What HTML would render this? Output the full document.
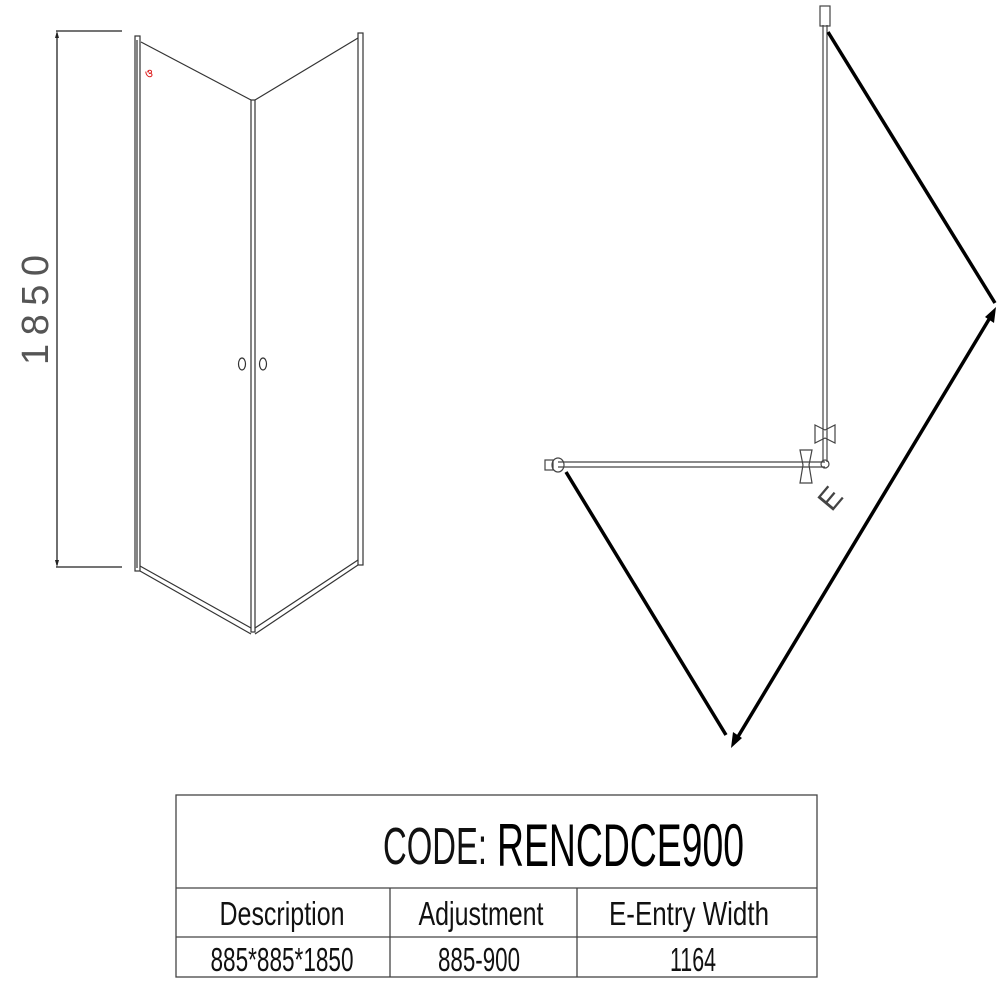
<!DOCTYPE html>
<html><head><style>body{margin:0;background:#fff}svg{display:block}</style></head><body>
<svg width="1000" height="1000" viewBox="0 0 1000 1000" xmlns="http://www.w3.org/2000/svg" font-family="Liberation Sans, sans-serif">
<g stroke="#222" stroke-width="1.3" fill="none">
<line x1="56" y1="31" x2="122" y2="31"/><line x1="56" y1="567" x2="122" y2="567"/>
<line x1="57" y1="33" x2="57" y2="565"/>
</g>
<path d="M57,31 l-2,7 h4z M57,567 l-2,-7 h4z" fill="#222"/>
<text transform="translate(48,310) rotate(-90)" font-size="38" fill="#555" text-anchor="middle" textLength="110" lengthAdjust="spacing">1850</text>
<g stroke="#333" stroke-width="1.2" fill="none">
<rect x="135" y="36" width="5" height="535"/>
<line x1="137" y1="40" x2="137" y2="568"/>
<line x1="141" y1="42" x2="251" y2="100"/>
<rect x="251" y="100" width="4" height="532"/>
<rect x="358" y="33" width="5" height="532"/>
<line x1="358" y1="38" x2="255" y2="100"/>
<line x1="140" y1="566" x2="251" y2="628"/>
<line x1="140" y1="571" x2="251" y2="634"/>
<line x1="358" y1="560" x2="255" y2="628"/>
<line x1="358" y1="565" x2="255" y2="634"/>
<ellipse cx="242" cy="364" rx="3.5" ry="6"/><ellipse cx="263" cy="364" rx="3.5" ry="6"/>
</g>
<text x="145" y="77" font-size="11" fill="#d22" font-weight="bold">ও</text>
<g stroke="#444" stroke-width="1.2" fill="none">
<line x1="823" y1="25" x2="823" y2="462"/><line x1="827" y1="25" x2="827" y2="462"/>
<rect x="820" y="6" width="10" height="20"/>
<line x1="558" y1="462" x2="825" y2="462"/><line x1="558" y1="467" x2="825" y2="467"/>
<ellipse cx="558" cy="465" rx="6" ry="7"/>
<rect x="545" y="460" width="8" height="10"/>
<circle cx="825" cy="464" r="4"/>
<path d="M815,425 l10,5 l10,-5 v18 l-10,-5 l-10,5z"/>
<path d="M800,450 h12 l-3,15 l3,18 h-12 l3,-18z"/>
</g>
<text transform="translate(838,505) rotate(-50)" font-size="30" fill="#444" text-anchor="middle" font-weight="300">E</text>
<g stroke="#000" stroke-width="3.5" fill="none">
<line x1="828" y1="32" x2="995" y2="303"/>
<line x1="566" y1="472" x2="726" y2="735"/>
<line x1="991" y1="316" x2="736" y2="740"/>
</g>
<path d="M996,307 l-2,16 l-9,-6z M731,748 l2,-16 l9,6z" fill="#000"/>
<g stroke="#444" stroke-width="1.3" fill="none">
<rect x="176" y="795" width="641" height="182"/>
<line x1="176" y1="888" x2="817" y2="888"/>
<line x1="176" y1="937" x2="817" y2="937"/>
<line x1="390" y1="888" x2="390" y2="977"/>
<line x1="577" y1="888" x2="577" y2="977"/>
</g>
<text x="383" y="864" font-size="52" textLength="104" lengthAdjust="spacingAndGlyphs" fill="#111">CODE:</text>
<text x="497" y="866" font-size="60" textLength="247" lengthAdjust="spacingAndGlyphs" fill="#000">RENCDCE900</text>
<g font-size="33" fill="#111" text-anchor="middle">
<text x="282" y="925" textLength="125" lengthAdjust="spacingAndGlyphs">Description</text>
<text x="481" y="925" textLength="125" lengthAdjust="spacingAndGlyphs">Adjustment</text>
<text x="689" y="925" textLength="160" lengthAdjust="spacingAndGlyphs">E-Entry  Width</text>
<text x="282" y="971" textLength="143" lengthAdjust="spacingAndGlyphs">885*885*1850</text>
<text x="479" y="971" textLength="82" lengthAdjust="spacingAndGlyphs">885-900</text>
<text x="693" y="971" textLength="46" lengthAdjust="spacingAndGlyphs">1164</text>
</g>
</svg>
</body></html>
